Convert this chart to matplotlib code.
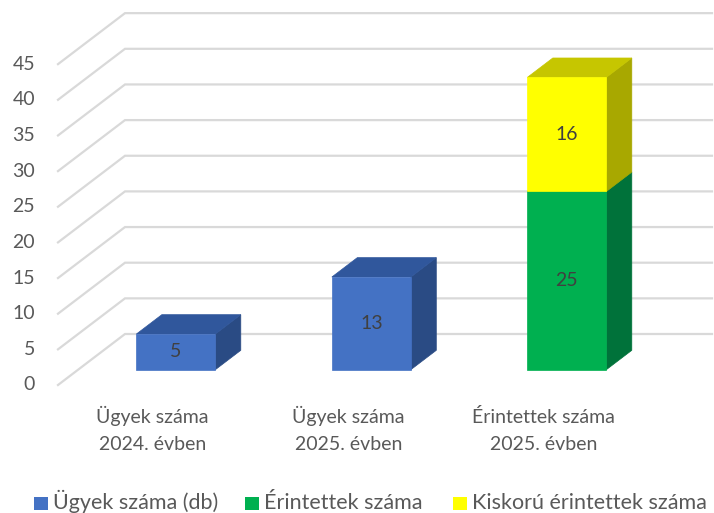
import matplotlib
matplotlib.use("Agg")
import matplotlib.pyplot as plt
from matplotlib.patches import Polygon, Rectangle

# ---- data ----
categories = [["Ügyek száma", "2024. évben"], ["Ügyek száma", "2025. évben"], ["Érintettek száma", "2025. évben"]]
series_names = ["Ügyek száma (db)", "Érintettek száma", "Kiskorú érintettek száma"]
ugyek = [5, 13, 0]
erintettek = [0, 0, 25]
kiskoru = [0, 0, 16]
yticks = [0, 5, 10, 15, 20, 25, 30, 35, 40, 45]

# ---- style / layout ----
FONT = "Lato"
TXT = "#595959"
LBL = "#404040"
GRID = "#D9D9D9"
colors = {
    0: ("#4472C4", "#30579C", "#2A4B84"),   # front, top, side
    1: ("#00B050", "#008A3E", "#00723A"),
    2: ("#FFFF00", "#C6C600", "#A8A800"),
}

W, H = 714, 513
X_LEFT = 58.0      # front-left corner of floor (screen px)
Y_BASE = 385.0     # front floor y (screen px)
DX, DY = 67.0, 51.0  # oblique depth offset of back wall
K = 7.13           # px per value unit
SLOT = 195.5
BAR_FRAC = 0.404
D_FRONT, D_BACK = 0.30, 0.68
X_BACK_END = 712

def proj(x, d, v):
    return (x + d * DX, Y_BASE - v * K - d * DY)

fig = plt.figure(figsize=(W / 100, H / 100), dpi=100)
ax = fig.add_axes([0, 0, 1, 1])
ax.set_xlim(0, W)
ax.set_ylim(H, 0)
ax.axis("off")

# gridlines: left wall diagonal + back wall horizontal
for t in yticks:
    p0 = proj(X_LEFT, 0, t)
    p1 = proj(X_LEFT, 1, t)
    ax.plot([p0[0], p1[0], X_BACK_END], [p0[1], p1[1], p1[1]], color=GRID, lw=1.6,
            solid_joinstyle="miter", zorder=1)
    ax.text(35, p0[1], str(t), ha="right", va="center", fontsize=14, color=TXT, family=FONT)

def bar3d(ci, v0, v1, cidx):
    fc, tc, sc = colors[cidx]
    cx = X_LEFT + SLOT * (ci + 0.5)
    bw = SLOT * BAR_FRAC
    xl, xr = cx - bw / 2, cx + bw / 2
    front = [proj(xl, D_FRONT, v0), proj(xr, D_FRONT, v0), proj(xr, D_FRONT, v1), proj(xl, D_FRONT, v1)]
    top = [proj(xl, D_FRONT, v1), proj(xr, D_FRONT, v1), proj(xr, D_BACK, v1), proj(xl, D_BACK, v1)]
    side = [proj(xr, D_FRONT, v0), proj(xr, D_BACK, v0), proj(xr, D_BACK, v1), proj(xr, D_FRONT, v1)]
    for poly, c in ((side, sc), (top, tc), (front, fc)):
        ax.add_patch(Polygon(poly, closed=True, facecolor=c, edgecolor=c, lw=0.5, zorder=3))
    mx, my = proj(cx, D_FRONT, (v0 + v1) / 2)
    ax.text(mx, my, f"{v1 - v0:g}", ha="center", va="center", fontsize=14, color=LBL,
            family=FONT, zorder=5)

for i in range(len(categories)):
    base = 0
    for sidx, vals in enumerate([ugyek, erintettek, kiskoru]):
        v = vals[i]
        if v > 0:
            bar3d(i, base, base + v, sidx)
            base += v

# category labels
for i, lines in enumerate(categories):
    cx = X_LEFT + SLOT * (i + 0.5)
    for j, line in enumerate(lines):
        ax.text(cx - 3, 423 + 27 * j, line, ha="center", va="baseline", fontsize=14,
                color=TXT, family=FONT)

# legend (manual)
leg_sq = [34, 245, 453]
for sidx, name in enumerate(series_names):
    ax.add_patch(Rectangle((leg_sq[sidx], 497), 14, 13, facecolor=colors[sidx][0],
                           edgecolor="none"))
    ax.text(leg_sq[sidx] + 19, 509, name, ha="left", va="baseline", fontsize=15.5,
            color=TXT, family=FONT)

fig.savefig("out.png", dpi=100)
